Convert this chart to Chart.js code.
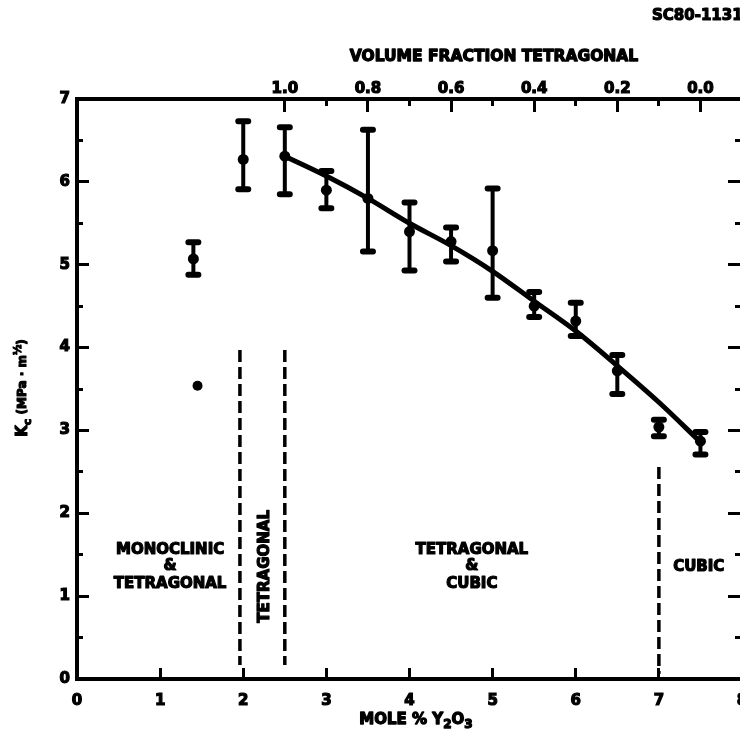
<!DOCTYPE html>
<html>
<head>
<meta charset="utf-8">
<script src="https://cdn.jsdelivr.net/npm/chart.js@4/dist/chart.umd.min.js"></script>
<style>
  html, body { margin: 0; padding: 0; background: #fff; overflow: hidden; width: 740px; height: 739px; }
  canvas { display: block; }
</style>
</head>
<body>
<canvas id="kc" width="780" height="739"></canvas>
<script>
// Fracture toughness of Y2O3-stabilised ZrO2 versus yttria content
const moleY2O3  = [1.4, 2.0, 2.5, 3.0, 3.5, 4.0, 4.5, 5.0, 5.5, 6.0, 6.5, 7.0, 7.5];
const toughness = [5.07, 6.27, 6.31, 5.90, 5.80, 5.40, 5.28, 5.17, 4.50, 4.32, 3.72, 3.04, 2.87];
const toughLow  = [4.88, 5.91, 5.85, 5.68, 5.16, 4.93, 5.04, 4.60, 4.37, 4.14, 3.44, 2.93, 2.71];
const toughHigh = [5.27, 6.73, 6.66, 6.13, 6.63, 5.75, 5.45, 5.92, 4.67, 4.54, 3.91, 3.13, 2.98];

// single measurement without a scatter band
const singleMole  = [1.45];
const singleTough = [3.54];

// smooth trend through the tetragonal + cubic range
const trendMole  = [2.5, 3.0, 3.5, 4.0, 4.5, 5.0, 5.5, 6.0, 6.5, 7.0, 7.5];
const trendTough = [6.31, 6.07, 5.80, 5.50, 5.23, 4.92, 4.56, 4.20, 3.78, 3.34, 2.86];

// phase-field boundaries (mole %) and their vertical extent (Kc)
const boundaryMole   = [1.96, 2.5, 7.0];
const boundaryTop    = [3.97, 3.97, 2.56];
const boundaryBottom = [0.17, 0.17, 0.06];

// axis ticks
const moleTicks      = [0, 1, 2, 3, 4, 5, 6, 7, 8];
const kTicks         = [0, 1, 2, 3, 4, 5, 6, 7];
const kMinorTicks    = [0.5, 1.5, 2.5, 3.5, 4.5, 5.5, 6.5];
const fractionMole   = [2.5, 3.5, 4.5, 5.5, 6.5, 7.5];
const fractionLabels = ['1.0', '0.8', '0.6', '0.4', '0.2', '0.0'];
const fractionMinor  = [3, 4, 5, 6, 7];

// phase-field captions
const regionMono     = ['MONOCLINIC', '&', 'TETRAGONAL'];
const regionTetCubic = ['TETRAGONAL', '&', 'CUBIC'];
const regionCubic    = ['CUBIC'];
const regionTet      = 'TETRAGONAL';

const INK = '#000';
const FAMILY = '"DejaVu Sans", "Liberation Sans", sans-serif';
const tickFont = { family: FAMILY, size: 15, weight: 'bold' };
const tickStroke = { textStrokeColor: INK, textStrokeWidth: 1.2 };

function fixedTicks(values) {
  return scale => { scale.ticks = values.map(v => ({ value: v })); };
}

// Error bars with rounded caps, placed through the chart scales
const errorBars = {
  id: 'errorBars',
  beforeDatasetsDraw(chart) {
    const { ctx, scales: { x, y } } = chart;
    ctx.save();
    ctx.strokeStyle = INK;
    for (let i = 0; i < moleY2O3.length; i++) {
      const px = x.getPixelForValue(moleY2O3[i]);
      const top = y.getPixelForValue(toughHigh[i]);
      const bot = y.getPixelForValue(toughLow[i]);
      ctx.lineCap = 'butt';
      ctx.lineWidth = 4;
      ctx.beginPath();
      ctx.moveTo(px, top);
      ctx.lineTo(px, bot);
      ctx.stroke();
      ctx.lineCap = 'round';
      ctx.lineWidth = 6;
      ctx.beginPath();
      ctx.moveTo(px - 5, top); ctx.lineTo(px + 5, top);
      ctx.moveTo(px - 5, bot); ctx.lineTo(px + 5, bot);
      ctx.stroke();
    }
    ctx.restore();
  }
};

// heavy text: filled and lightly stroked
function heavyText(ctx, t, x, y, sw) {
  ctx.lineWidth = sw;
  ctx.lineJoin = 'round';
  ctx.strokeText(t, x, y);
  ctx.fillText(t, x, y);
}

// draw a run of text pieces with individual sizes and baseline shifts
function drawRich(ctx, parts, x, y, sw) {
  let total = 0;
  parts.forEach(p => {
    ctx.font = `bold ${p.size}px ${FAMILY}`;
    p.w = ctx.measureText(p.t).width;
    total += p.w;
  });
  let cx = x - total / 2;
  parts.forEach(p => {
    ctx.font = `bold ${p.size}px ${FAMILY}`;
    ctx.textAlign = 'left';
    ctx.textBaseline = 'middle';
    heavyText(ctx, p.t, cx, y + (p.dy || 0), sw);
    cx += p.w;
  });
}

const captions = {
  id: 'captions',
  afterDraw(chart) {
    const { ctx, scales: { x, y } } = chart;
    ctx.save();
    ctx.fillStyle = INK;
    ctx.strokeStyle = INK;
    const capFont = `bold 15px ${FAMILY}`;
    ctx.font = capFont;
    ctx.textAlign = 'center';
    ctx.textBaseline = 'middle';

    const lineK = [1.56, 1.36, 1.15];
    regionMono.forEach((t, i) => heavyText(ctx, t, x.getPixelForValue(1.12), y.getPixelForValue(lineK[i]), 1.2));
    regionTetCubic.forEach((t, i) => heavyText(ctx, t, x.getPixelForValue(4.75), y.getPixelForValue(lineK[i]), 1.2));
    regionCubic.forEach(t => heavyText(ctx, t, x.getPixelForValue(7.48), y.getPixelForValue(1.35), 1.2));

    ctx.save();
    ctx.translate(x.getPixelForValue(2.26), y.getPixelForValue(1.36));
    ctx.rotate(-Math.PI / 2);
    heavyText(ctx, regionTet, 0, 0, 1.2);
    ctx.restore();

    // upper axis title
    ctx.font = `bold 15.5px ${FAMILY}`;
    heavyText(ctx, 'VOLUME FRACTION TETRAGONAL', 494, 57, 1.3);

    // drawing number
    ctx.font = `bold 15px ${FAMILY}`;
    ctx.textAlign = 'left';
    heavyText(ctx, 'SC80-11318', 652, 16, 1.2);

    // lower axis title
    drawRich(ctx, [
      { t: 'MOLE % Y', size: 15 },
      { t: '2', size: 12, dy: 5 },
      { t: 'O', size: 15 },
      { t: '3', size: 12, dy: 5 }
    ], 416, 720, 1.3);

    // left axis title
    ctx.save();
    ctx.translate(23, 388);
    ctx.rotate(-Math.PI / 2);
    drawRich(ctx, [
      { t: 'K', size: 15 },
      { t: 'c', size: 11, dy: 5 },
      { t: ' (MPa · m', size: 12 },
      { t: '½', size: 10, dy: -5 },
      { t: ')', size: 12 }
    ], 0, 0, 1.1);
    ctx.restore();

    ctx.restore();
  }
};

const pts = (xs, ys) => xs.map((v, i) => ({ x: v, y: ys[i] }));

const datasets = [
  {
    label: 'Kc',
    data: pts(moleY2O3, toughness),
    showLine: false,
    pointRadius: 5.5,
    pointBackgroundColor: INK,
    pointBorderColor: INK,
    pointBorderWidth: 0
  },
  {
    label: 'single',
    data: pts(singleMole, singleTough),
    showLine: false,
    pointRadius: 5,
    pointBackgroundColor: INK,
    pointBorderColor: INK,
    pointBorderWidth: 0
  },
  {
    label: 'trend',
    data: pts(trendMole, trendTough),
    showLine: true,
    borderColor: INK,
    borderWidth: 5,
    pointRadius: 0,
    cubicInterpolationMode: 'monotone',
    fill: false
  }
];

boundaryMole.forEach((m, i) => {
  datasets.push({
    label: 'boundary' + i,
    data: [{ x: m, y: boundaryTop[i] }, { x: m, y: boundaryBottom[i] }],
    showLine: true,
    borderColor: INK,
    borderWidth: 3.5,
    borderDash: [12, 5],
    pointRadius: 0,
    fill: false
  });
});

const border = { display: true, color: INK, width: 4 };
const noBorder = { display: false };

new Chart(document.getElementById('kc'), {
  type: 'scatter',
  data: { datasets },
  options: {
    responsive: false,
    maintainAspectRatio: false,
    animation: false,
    events: [],
    layout: { padding: 0 },
    plugins: { legend: { display: false }, tooltip: { enabled: false }, title: { display: false } },
    scales: {
      x: {
        type: 'linear', position: 'bottom', min: 0, max: 8, weight: 1,
        afterBuildTicks: fixedTicks(moleTicks),
        afterFit: s => { s.height = 60; },
        ticks: { font: tickFont, color: INK, ...tickStroke, padding: 24, autoSkip: false, maxRotation: 0, callback: v => String(v) },
        grid: { drawOnChartArea: false, tickLength: -11, tickWidth: 3, tickColor: INK },
        border
      },
      xTop: {
        type: 'linear', position: 'top', min: 0, max: 8, weight: 1,
        afterBuildTicks: fixedTicks(fractionMole),
        afterFit: s => { s.height = 99; },
        ticks: { font: tickFont, color: INK, ...tickStroke, padding: 14, autoSkip: false, maxRotation: 0,
                 callback: (v, i) => fractionLabels[i] },
        grid: { drawOnChartArea: false, tickLength: -13, tickWidth: 3, tickColor: INK },
        border
      },
      xTopMinor: {
        type: 'linear', position: 'top', min: 0, max: 8, weight: 0,
        afterBuildTicks: fixedTicks(fractionMinor),
        afterFit: s => { s.height = 0; },
        ticks: { display: false },
        grid: { drawOnChartArea: false, tickLength: -7, tickWidth: 3, tickColor: INK },
        border: noBorder
      },
      y: {
        type: 'linear', position: 'left', min: 0, max: 7, weight: 1,
        afterBuildTicks: fixedTicks(kTicks),
        afterFit: s => { s.width = 77; },
        ticks: { font: tickFont, color: INK, ...tickStroke, padding: 19, callback: v => String(v) },
        grid: { drawOnChartArea: false, tickLength: -12, tickWidth: 3, tickColor: INK },
        border
      },
      yMinor: {
        type: 'linear', position: 'left', min: 0, max: 7, weight: 0,
        afterBuildTicks: fixedTicks(kMinorTicks),
        afterFit: s => { s.width = 0; },
        ticks: { display: false },
        grid: { drawOnChartArea: false, tickLength: -6, tickWidth: 3, tickColor: INK },
        border: noBorder
      },
      yRight: {
        type: 'linear', position: 'right', min: 0, max: 7, weight: 1,
        afterBuildTicks: fixedTicks(kTicks),
        afterFit: s => { s.width = 38; },
        ticks: { display: false },
        grid: { drawOnChartArea: false, tickLength: -14, tickWidth: 3, tickColor: INK },
        border
      },
      yRightMinor: {
        type: 'linear', position: 'right', min: 0, max: 7, weight: 0,
        afterBuildTicks: fixedTicks(kMinorTicks),
        afterFit: s => { s.width = 0; },
        ticks: { display: false },
        grid: { drawOnChartArea: false, tickLength: -7, tickWidth: 3, tickColor: INK },
        border: noBorder
      }
    }
  },
  plugins: [errorBars, captions]
});
</script>
</body>
</html>
